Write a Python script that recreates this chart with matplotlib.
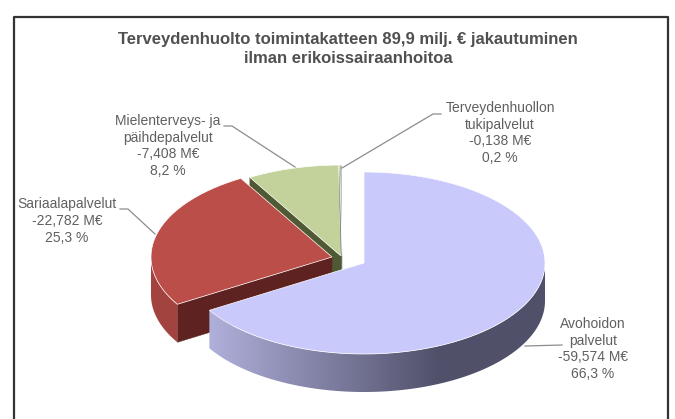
import numpy as np
import matplotlib
matplotlib.use('Agg')
import matplotlib.pyplot as plt
from matplotlib.colors import to_rgb
from matplotlib.patches import Polygon

# Data
categories = ['Avohoidon\npalvelut', 'Sariaalapalvelut', 'Mielenterveys- ja\npäihdepalvelut', 'Terveydenhuollon\ntukipalvelut']
amounts = ['-59,574', '-22,782', '-7,408', '-0,138']
shares = [66.3, 25.3, 8.2, 0.2]
title = 'Terveydenhuolto toimintakatteen 89,9 milj. € jakautuminen\nilman erikoissairaanhoitoa'

# Layout, in image pixels
RX, RY, DEPTH = 181, 91, 38
centres = [(364, 263), (332, 257), (341, 256), (342, 256)]
top_colors = ['#c9c9fb', '#bc4e4a', '#c2d29a', '#a0a890']
side_colors = [('#50506a', '#b0b0dc'), ('#a3433f', '#a3433f'), ('#5a6640', '#5a6640'), ('#777777', '#777777')]
radial_colors = ['#50506a', '#5e2321', '#4f5a35', '#666666']
label_pos = [(593, 349), (67, 221), (168, 146), (500, 133)]
leaders = [
    [(562, 345), (525, 346)],
    [(120, 209), (128, 209), (155, 234)],
    [(224, 126), (232, 126), (295, 167)],
    [(441, 114), (433, 114), (342, 168)],
]
GREY = '#606060'


def ellipse_pt(c, deg):
    # angle measured clockwise from 12 o'clock
    a = np.radians(deg)
    return c[0] + RX * np.sin(a), c[1] - RY * np.cos(a)


def draw_slice(ax, c, start, end, top, side, radial, zo):
    angles = np.linspace(start, end, 200)
    xs, ys = ellipse_pt(c, angles)

    # radial face seen from the front (only the one at the end of the sweep)
    if start > 180:
        ex, ey = ellipse_pt(c, start)
        ax.add_patch(Polygon([c, (ex, ey), (ex, ey + DEPTH), (c[0], c[1] + DEPTH)],
                             fc=radial, ec=radial, lw=0.3, zorder=zo))

    # outer wall, a gradient image clipped to the wall outline
    lo, hi = max(start, 90), min(end, 270)
    if hi > lo:
        wx, wy = ellipse_pt(c, np.linspace(lo, hi, 120))
        outline = np.vstack([np.column_stack([wx, wy]),
                             np.column_stack([wx[::-1], wy[::-1] + DEPTH])])
        wall = Polygon(outline, fc='none', ec='none', transform=ax.transData)
        ax.add_patch(wall)
        grad_x = np.linspace(c[0] - RX, c[0] + RX, 256)
        # dark on the right hand part, lighter towards the left
        t = np.clip((c[0] + 76 - grad_x) / 232, 0, 1)[None, :, None]
        c0, c1 = np.array(to_rgb(side[0])), np.array(to_rgb(side[1]))
        img = ax.imshow(c0 + (c1 - c0) * t, aspect='auto', zorder=zo + 0.1,
                        extent=(c[0] - RX, c[0] + RX, c[1] + RY + DEPTH, c[1] - RY))
        img.set_clip_path(wall)

    ax.add_patch(Polygon(np.vstack([[c], np.column_stack([xs, ys])]),
                         fc=top, ec='white', lw=0.5, zorder=zo + 0.2))


fig = plt.figure(figsize=(6.75, 4.19), dpi=100)
ax = fig.add_axes([0, 0, 1, 1])
plt.rcParams['font.family'] = ['Liberation Sans', 'DejaVu Sans']

# Frame, open at the bottom edge of the picture
ax.plot([14, 14, 668, 668], [419, 17, 17, 419], color='#333333', lw=1.6, zorder=1)

# Slices, back to front
edges = np.cumsum([0] + shares) / np.sum(shares) * 360
for i in [2, 3, 1, 0]:
    draw_slice(ax, centres[i], edges[i], edges[i + 1], top_colors[i],
               side_colors[i], radial_colors[i], 2 + {2: 0, 3: 1, 1: 2, 0: 3}[i])

for pts in leaders:
    p = np.array(pts)
    ax.plot(p[:, 0], p[:, 1], color='#8c8c8c', lw=0.9, zorder=7)

for name, amount, share, pos in zip(categories, amounts, shares, label_pos):
    pct = f'{share:.1f}'.replace('.', ',')
    ax.text(pos[0], pos[1], f'{name}\n{amount} M€\n{pct} %', ha='center', va='center',
            fontsize=10, color=GREY, linespacing=1.27, zorder=8)

ax.text(348, 49, title, ha='center', va='center', fontsize=12, fontweight='bold',
        color='#505050', linespacing=1.32, zorder=8)

ax.set_xlim(0, 675)
ax.set_ylim(419, 0)
ax.axis('off')

fig.savefig('out.png', dpi=100)
